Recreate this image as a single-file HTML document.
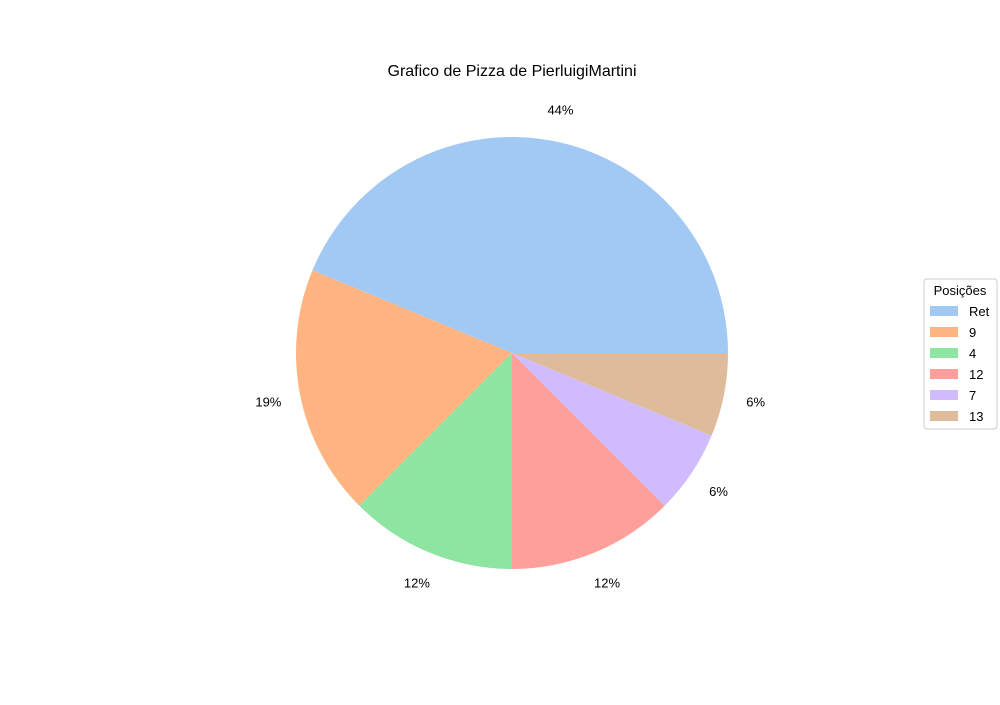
<!DOCTYPE html>
<html><head><meta charset="utf-8"><style>
body{margin:0;background:#fff;font-family:"Liberation Sans","DejaVu Sans",sans-serif}
</style></head><body>
<svg width="1000" height="700" xmlns="http://www.w3.org/2000/svg">
<rect width="1000" height="700" fill="#fff"/>
<text x="512" y="76" text-anchor="middle" font-size="16">Grafico de Pizza de PierluigiMartini</text>
<g id="slices"></g>
<g id="labels" font-size="13"></g>
<g id="legend">
<rect x="924" y="279" width="73" height="150" rx="3" fill="#fff" stroke="#ccc"/>
<text x="960" y="295" text-anchor="middle" font-size="13">Posições</text>
</g>
</svg>
<script>
const categories=["Ret","9","4","12","7","13"];
const values=[7,3,2,2,1,1];
const colors=["#a1c9f4","#ffb482","#8de5a1","#ff9f9b","#d0bbff","#debb9b"];
const NS="http://www.w3.org/2000/svg";
const cx=512,cy=353,R=216;
const total=values.reduce((a,b)=>a+b,0);
function roundHalfEven(x){const f=Math.floor(x),d=x-f;if(Math.abs(d-0.5)<1e-9)return f%2===0?f:f+1;return Math.round(x);}
let a0=0;
const S=document.getElementById('slices'),L=document.getElementById('labels'),G=document.getElementById('legend');
values.forEach((v,i)=>{
  const a1=a0+v/total*2*Math.PI;
  const x0=cx+R*Math.cos(a0),y0=cy-R*Math.sin(a0),x1=cx+R*Math.cos(a1),y1=cy-R*Math.sin(a1);
  const p=document.createElementNS(NS,'path');
  p.setAttribute('d',`M${cx},${cy}L${x0},${y0}A${R},${R} 0 ${a1-a0>Math.PI?1:0} 0 ${x1},${y1}Z`);
  p.setAttribute('fill',colors[i]);
  
  
  S.appendChild(p);
  const am=(a0+a1)/2,r2=R*1.15;
  const t=document.createElementNS(NS,'text');
  t.setAttribute('x',cx+r2*Math.cos(am));t.setAttribute('y',cy-r2*Math.sin(am)+5);
  t.setAttribute('text-anchor','middle');
  t.textContent=roundHalfEven(v/total*100)+'%';
  
  
  L.appendChild(t);
  const y=311+i*21;
  const r=document.createElementNS(NS,'rect');
  r.setAttribute('x',930);r.setAttribute('y',y-5);r.setAttribute('width',28);r.setAttribute('height',10);r.setAttribute('fill',colors[i]);
  
  
  G.appendChild(r);
  const lt=document.createElementNS(NS,'text');
  lt.setAttribute('x',969);lt.setAttribute('y',y+5);lt.setAttribute('font-size','13');lt.textContent=categories[i];
  
  
  G.appendChild(lt);
  a0=a1;
});
</script>
</body></html>
